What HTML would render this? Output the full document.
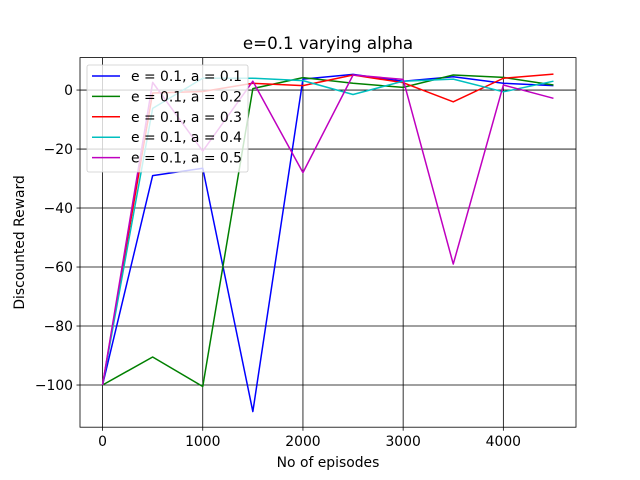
<!DOCTYPE html>
<html><head><meta charset="utf-8"><style>
body{margin:0;background:#fff}
svg{display:block;font-family:"DejaVu Sans","Liberation Sans",sans-serif}
</style></head><body>
<svg id="chart" width="640" height="480"></svg>
<script>
const xValues=[0,500,1000,1500,2000,2500,3000,3500,4000,4500];
const seriesA1=[-100,-29,-26.5,-109,3.7,5.3,3,4.5,2.3,1.5];
const seriesA2=[-100,-90.5,-100.5,0.5,4.2,2.3,0.9,5.1,4.3,1.7];
const seriesA3=[-100,-1,-0.5,2.3,1.5,5.1,2.5,-4,4,5.4];
const seriesA4=[-100,-6.2,4,4,3.2,-1.5,3,3.7,-0.6,3];
const seriesA5=[-100,2.6,-20.7,3,-28,5.1,3.6,-59,1.7,-2.8];
const seriesLabels=["e = 0.1, a = 0.1","e = 0.1, a = 0.2","e = 0.1, a = 0.3","e = 0.1, a = 0.4","e = 0.1, a = 0.5"];
const xTicks=[0,1000,2000,3000,4000];
const yTicks=[0,-20,-40,-60,-80,-100];
const colors=["#0000ff","#008000","#ff0000","#00bfbf","#bf00bf"];
const L=80,R=576,T=57.6,B=427.2;
const xMin=-225,xMax=4725,yMin=-114.3,yMax=11;
const sx=v=>L+(v-xMin)/(xMax-xMin)*(R-L);
const sy=v=>T+(yMax-v)/(yMax-yMin)*(B-T);
const NS="http://www.w3.org/2000/svg";
const svg=document.getElementById('chart');
function mk(tag,attrs,parent){const e=document.createElementNS(NS,tag);for(const k in attrs)e.setAttribute(k,attrs[k]);(parent||svg).appendChild(e);return e;}
xTicks.forEach(t=>{
 const g=mk('line',{x1:sx(t),x2:sx(t),y1:T,y2:B,stroke:'#000','stroke-width':0.8});
 
 
 mk('line',{x1:sx(t),x2:sx(t),y1:B,y2:B+3.5,stroke:'#000','stroke-width':0.8});
 const tx=mk('text',{x:sx(t),y:B+19,'text-anchor':'middle','font-size':13.9});
 tx.textContent=t;
 
 
});
yTicks.forEach(t=>{
 const g=mk('line',{x1:L,x2:R,y1:sy(t),y2:sy(t),stroke:'#000','stroke-width':0.8});
 
 
 mk('line',{x1:L-3.5,x2:L,y1:sy(t),y2:sy(t),stroke:'#000','stroke-width':0.8});
 const tx=mk('text',{x:L-7,y:sy(t)+5,'text-anchor':'end','font-size':13.9});
 tx.textContent=t===0?'0':'\u2212'+Math.abs(t);
 
 
});
const allSeries=[seriesA1,seriesA2,seriesA3,seriesA4,seriesA5];
allSeries.forEach((s,i)=>{
 const p=mk('polyline',{points:s.map((v,j)=>sx(xValues[j])+','+sy(v)).join(' '),fill:'none',stroke:colors[i],'stroke-width':1.5,'stroke-linejoin':'round'});
 
 
});
const fr=mk('rect',{x:L,y:T,width:R-L,height:B-T,fill:'none',stroke:'#000','stroke-width':0.8});


const lg=mk('g',{});


mk('rect',{x:87,y:65,width:161,height:107,rx:2,fill:'#fff','fill-opacity':0.8,stroke:'#ccc','stroke-width':0.8},lg);
seriesLabels.forEach((lab,i)=>{
 const y=76+i*20.4;
 const e=mk('g',{},lg);
 
 
 mk('line',{x1:92,x2:120,y1:y,y2:y,stroke:colors[i],'stroke-width':1.5},e);
 const t=mk('text',{x:131,y:y+5,'font-size':13.9},e);
 t.textContent=lab;
});
const title=mk('text',{x:(L+R)/2,y:49,'text-anchor':'middle','font-size':16.7});
title.textContent='e=0.1 varying alpha';


const xl=mk('text',{x:(L+R)/2,y:467,'text-anchor':'middle','font-size':13.9});
xl.textContent='No of episodes';


const yl=mk('text',{x:0,y:0,'text-anchor':'middle','font-size':13.9,transform:'translate(24,'+((T+B)/2)+') rotate(-90)'});
yl.textContent='Discounted Reward';


</script>
</body></html>
